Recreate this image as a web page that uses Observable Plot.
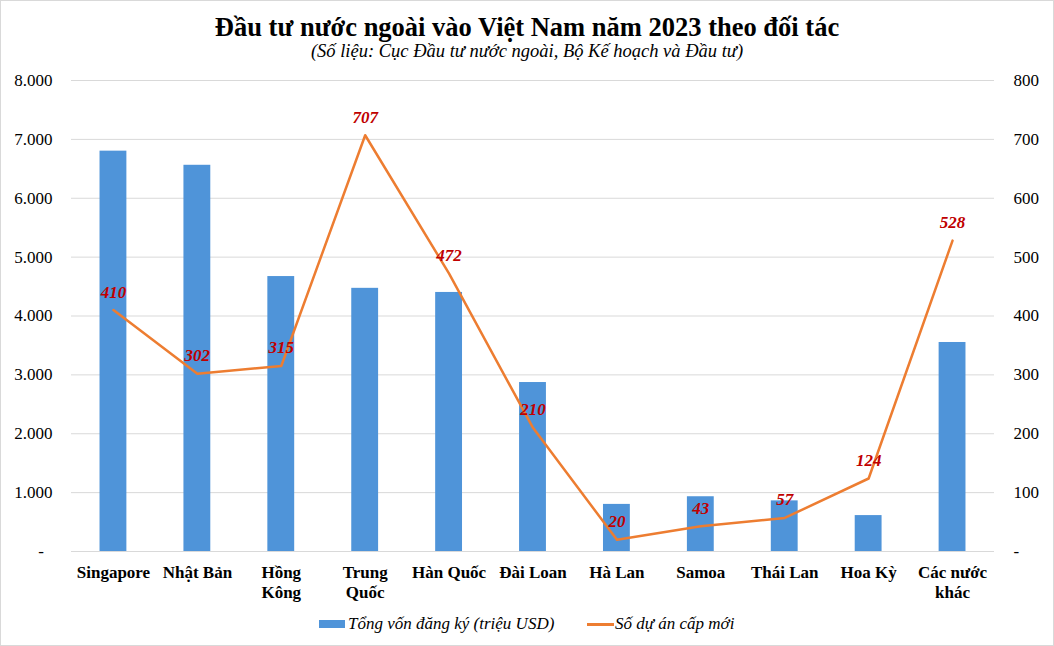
<!DOCTYPE html>
<html>
<head>
<meta charset="utf-8">
<script src="https://cdn.jsdelivr.net/npm/d3@7"></script>
<script src="https://cdn.jsdelivr.net/npm/@observablehq/plot@0.6"></script>
<style>
  body { margin: 0; background: #fff; }
  #wrap { position: relative; width: 1054px; height: 646px; background: #fff; font-family: "Liberation Serif", "Times New Roman", serif; overflow: hidden; }
  #frame { position: absolute; left: 0; top: 0; width: 1054px; height: 646px; box-sizing: border-box; border: 1px solid #d9d9d9; pointer-events: none; }
  #title { position: absolute; left: 0; width: 1054px; top: 11px; line-height: 32px; text-align: center; font-weight: bold; font-size: 26.5px; color: #000; }
  #subtitle { position: absolute; left: 0; width: 1054px; top: 40px; line-height: 22px; text-align: center; font-style: italic; font-size: 18.5px; color: #000; }
  #chart { position: absolute; left: 0; top: 66px; }
  #legend { position: absolute; left: 0; top: 613px; width: 1054px; height: 22px; font-style: italic; font-size: 17px; color: #000; }
  .sw { position: absolute; }
  .lt { position: absolute; top: 0; line-height: 22px; white-space: nowrap; }
</style>
</head>
<body>
<div id="wrap">
  <div id="title">Đầu tư nước ngoài vào Việt Nam năm 2023 theo đối tác</div>
  <div id="subtitle">(Số liệu: Cục Đầu tư nước ngoài, Bộ Kế hoạch và Đầu tư)</div>
  <div id="chart"></div>
  <div id="legend">
    <div class="sw" style="left:319px;top:7px;width:26px;height:8px;background:#4F94D9"></div>
    <div class="lt" style="left:348px">Tổng vốn đăng ký (triệu USD)</div>
    <div class="sw" style="left:587px;top:10px;width:27px;height:3px;background:#ED7D31"></div>
    <div class="lt" style="left:615px">Số dự án cấp mới</div>
  </div>
  <div id="frame"></div>
</div>
<script>
const categories = ["Singapore", "Nhật Bản", "Hồng Kông", "Trung Quốc", "Hàn Quốc", "Đài Loan", "Hà Lan", "Samoa", "Thái Lan", "Hoa Kỳ", "Các nước khác"];
const tickLabels = ["Singapore", "Nhật Bản", "Hồng\nKông", "Trung\nQuốc", "Hàn Quốc", "Đài Loan", "Hà Lan", "Samoa", "Thái Lan", "Hoa Kỳ", "Các nước\nkhác"];
const capital = [6800, 6560, 4670, 4470, 4400, 2870, 800, 930, 860, 610, 3550];
const projects = [410, 302, 315, 707, 472, 210, 20, 43, 57, 124, 528];
const leftTicks = [0, 1000, 2000, 3000, 4000, 5000, 6000, 7000, 8000];
const rightTicks = [0, 100, 200, 300, 400, 500, 600, 700, 800];

const ratio = leftTicks[leftTicks.length - 1] / rightTicks[rightTicks.length - 1];
const data = categories.map((c, i) => ({c, capital: capital[i], projects: projects[i]}));
const dotFmt = v => v === 0 ? "-\u00a0\u00a0" : d3.format(",")(v).replace(/,/g, ".");

const chart = Plot.plot({
  width: 1054,
  height: 540,
  marginLeft: 71,
  marginRight: 60,
  marginTop: 14,
  marginBottom: 55,
  style: {fontFamily: "Liberation Serif, Times New Roman, serif", fontSize: "17px", color: "#000", background: "transparent"},
  x: {domain: categories, paddingInner: 0.68, paddingOuter: 0.34, round: false, label: null},
  y: {domain: [0, leftTicks[leftTicks.length - 1]], label: null},
  marks: [
    Plot.gridY(leftTicks, {stroke: "#d9d9d9", strokeOpacity: 1, strokeWidth: 1}),
    Plot.barY(data, {x: "c", y: "capital", fill: "#4F94D9"}),
    Plot.lineY(data, {x: "c", y: d => d.projects * ratio, stroke: "#ED7D31", strokeWidth: 2.5}),
    Plot.text(data, {x: "c", y: d => d.projects * ratio, text: d => String(d.projects), dy: -18, fill: "#C00000", fontWeight: "bold", fontStyle: "italic", fontSize: 17}),
    Plot.axisY(leftTicks, {anchor: "left", label: null, tickSize: 0, tickPadding: 19, tickFormat: dotFmt, fill: "#000"}),
    Plot.axisY(rightTicks.map(v => v * ratio), {anchor: "right", label: null, tickSize: 0, tickPadding: 19, tickFormat: v => v === 0 ? "-" : String(v / ratio), fill: "#000"}),
    Plot.axisX({label: null, tickSize: 0, tickPadding: 12, tickFormat: c => tickLabels[categories.indexOf(c)], fontWeight: "bold", lineHeight: 1.18, fill: "#000"})
  ]
});
document.getElementById("chart").appendChild(chart);
</script>
</body>
</html>
